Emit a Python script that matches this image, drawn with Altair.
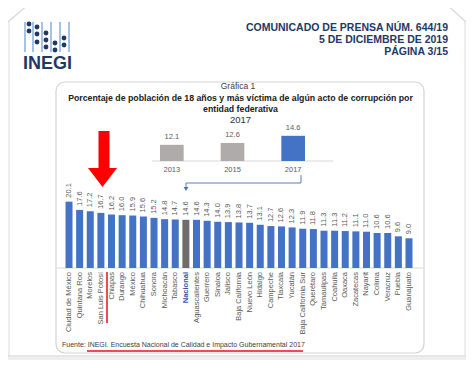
import altair as alt
import pandas as pd

# ---------------- data ----------------
states = ["Ciudad de México", "Quintana Roo", "Morelos", "San Luis Potosí", "Chiapas",
          "Durango", "México", "Chihuahua", "Sonora", "Michoacán", "Tabasco", "Nacional",
          "Aguascalientes", "Guerrero", "Sinaloa", "Jalisco", "Baja California",
          "Nuevo León", "Hidalgo", "Campeche", "Tlaxcala", "Yucatán",
          "Baja California Sur", "Querétaro", "Tamaulipas", "Coahuila", "Oaxaca",
          "Zacatecas", "Nayarit", "Colima", "Veracruz", "Puebla", "Guanajuato"]
values = [20.1, 17.6, 17.2, 16.7, 16.2, 16.0, 15.9, 15.6, 15.2, 14.8, 14.7, 14.6,
          14.6, 14.3, 14.0, 13.9, 13.8, 13.7, 13.1, 12.7, 12.6, 12.3, 11.9, 11.8,
          11.3, 11.3, 11.2, 11.1, 11.0, 10.6, 10.6, 9.6, 9.0]
years = ["2013", "2015", "2017"]
year_values = [12.1, 12.6, 14.6]

BLUE = "#4472c4"
NAT = "#706c6c"
GREY = "#afabab"
FONT = "Liberation Sans"
NAVY = "#1f3864"
INSET_BASE = 7.6


def px(v):
    return v - 8


main = pd.DataFrame({"estado": states, "valor": values})
main["color"] = [NAT if s == "Nacional" else BLUE for s in states]
inset = pd.DataFrame({"anio": years, "valor": year_values})
inset["color"] = [GREY, GREY, BLUE]
one = pd.DataFrame({"k": [0]})

xmain = alt.Scale(domain=states, range=[px(63.7), px(414.3)], paddingInner=0.34, paddingOuter=0.17)
ymain = alt.Scale(domain=[0, 22], range=[px(268), px(268 - 72.6)], nice=False, zero=True)
xins = alt.Scale(domain=years, range=[px(141.5), px(323.5)], paddingInner=0.61, paddingOuter=0.305)
yins = alt.Scale(domain=[INSET_BASE, 16], range=[px(161), px(161 - 8.4 * 3.6)], nice=False, zero=False)

# ---------------- decoration ----------------
seg = pd.DataFrame([
    # page frame
    dict(x=30, x2=445, y=3, y2=3, c="#d6d6d6", w=1.2),
    dict(x=8, x2=30, y=22, y2=3, c="#d6d6d6", w=1.2),
    dict(x=445, x2=466, y=3, y2=22, c="#d6d6d6", w=1.2),
    dict(x=9, x2=9, y=22, y2=356, c="#e2e2e2", w=1.2),
    dict(x=465, x2=465, y=22, y2=356, c="#e2e2e2", w=1.2),
    dict(x=8, x2=466, y=356, y2=356, c="#cfcfcf", w=1.2),
    # axis lines
    dict(x=57, x2=423, y=268, y2=268, c="#d9d9d9", w=1),
    dict(x=152, x2=333, y=161, y2=161, c="#d9d9d9", w=1),
    # connector
    dict(x=301, x2=301, y=175, y2=183, c="#5b7dbf", w=1),
    dict(x=186, x2=301, y=183, y2=183, c="#5b7dbf", w=1),
    dict(x=186, x2=186, y=183, y2=188, c="#5b7dbf", w=1),
    # red marks
    dict(x=104, x2=104, y=131, y2=170, c="#ff0000", w=11),
    dict(x=107, x2=107, y=272, y2=323, c="#e8101a", w=1.5),
    dict(x=87, x2=303, y=351, y2=351, c="#e8101a", w=1.5),
    # logo lines
    dict(x=25, x2=25, y=22, y2=52, c="#4a86c8", w=1),
    dict(x=33, x2=33, y=22, y2=52, c="#4a86c8", w=1),
    dict(x=42, x2=42, y=22, y2=52, c="#4a86c8", w=1),
    dict(x=51, x2=51, y=22, y2=52, c="#4a86c8", w=1),
    dict(x=60, x2=60, y=22, y2=52, c="#4a86c8", w=1),
    dict(x=69, x2=69, y=22, y2=52, c="#4a86c8", w=1),
])
for col in ["x", "x2", "y", "y2"]:
    seg[col] = seg[col] - 8

logo_dots = pd.DataFrame({
    "x": [29, 29, 37, 37, 37, 46, 46, 46, 55, 55, 64, 64],
    "y": [24, 31, 27, 34, 42, 33, 40, 47, 43, 50, 38, 45],
})
logo_dots["x"] = logo_dots["x"] - 8
logo_dots["y"] = logo_dots["y"] - 8

bg = alt.Chart(one).mark_rect(fill="#eeeeee").encode(
    x=alt.value(0), x2=alt.value(458), y=alt.value(px(357)), y2=alt.value(352))

box = alt.Chart(one).mark_rect(fill="white", stroke="#d3d3d3", strokeWidth=1.2, cornerRadius=9).encode(
    x=alt.value(px(56)), x2=alt.value(px(424)), y=alt.value(px(82)), y2=alt.value(px(353)))

lines = alt.Chart(seg).mark_rule().encode(
    x=alt.X("x:Q", scale=None), x2="x2:Q",
    y=alt.Y("y:Q", scale=None), y2="y2:Q",
    color=alt.Color("c:N", scale=None),
    strokeWidth=alt.StrokeWidth("w:Q", scale=None),
)

dots = alt.Chart(logo_dots).mark_circle(size=24, color=NAVY, opacity=1).encode(
    x=alt.X("x:Q", scale=None), y=alt.Y("y:Q", scale=None))

# ---------------- main chart ----------------
bars = alt.Chart(main).mark_bar().encode(
    x=alt.X("estado:N", scale=xmain, axis=None, sort=None),
    y=alt.Y("valor:Q", scale=ymain, axis=None),
    color=alt.Color("color:N", scale=None),
)
vlabels = alt.Chart(main).mark_text(angle=270, align="left", baseline="middle", dx=4,
                                    fontSize=7.5, font=FONT, color="#595959").encode(
    x=alt.X("estado:N", scale=xmain, axis=None, sort=None),
    y=alt.Y("valor:Q", scale=ymain, axis=None),
    text=alt.Text("valor:Q", format=".1f"),
)
xl = alt.Chart(main).transform_filter("datum.estado != 'Nacional'").mark_text(
    angle=270, align="right", baseline="middle", fontSize=7.5, font=FONT, color="#595959").encode(
    x=alt.X("estado:N", scale=xmain, axis=None, sort=None),
    y=alt.value(px(272)),
    text="estado:N",
)
xln = alt.Chart(main).transform_filter("datum.estado == 'Nacional'").mark_text(
    angle=270, align="right", baseline="middle", fontSize=7.5, font=FONT, fontWeight="bold",
    color="#2f55a4").encode(
    x=alt.X("estado:N", scale=xmain, axis=None, sort=None),
    y=alt.value(px(272)),
    text="estado:N",
)

# ---------------- inset ----------------
ibars = alt.Chart(inset).transform_calculate(base=f"{INSET_BASE}").mark_bar().encode(
    x=alt.X("anio:N", scale=xins, axis=None),
    y=alt.Y("valor:Q", scale=yins, axis=None),
    y2="base:Q",
    color=alt.Color("color:N", scale=None),
)
ilabels = alt.Chart(inset).mark_text(baseline="bottom", dy=-4, fontSize=7.5, font=FONT,
                                     color="#595959").encode(
    x=alt.X("anio:N", scale=xins, axis=None),
    y=alt.Y("valor:Q", scale=yins, axis=None),
    text=alt.Text("valor:Q", format=".1f"),
)
iyears = alt.Chart(inset).mark_text(baseline="middle", fontSize=7.5, font=FONT,
                                    color="#595959").encode(
    x=alt.X("anio:N", scale=xins, axis=None),
    y=alt.value(px(170)),
    text="anio:N",
)

# ---------------- arrows ----------------
conn_head = alt.Chart(one).mark_point(shape="triangle-down", filled=True, size=22,
                                      color="#4a6fb5", opacity=1).encode(
    x=alt.value(px(186)), y=alt.value(px(189)))
red_head = alt.Chart(one).mark_point(shape="M-1,-0.65L1,-0.65L0,0.65Z", filled=True, size=841,
                                     color="#ff0000", opacity=1, strokeWidth=0).encode(
    x=alt.value(px(102.5)), y=alt.value(px(177.5)))


# ---------------- texts ----------------
def txt(t, x, y, size, weight="normal", align="center", color="#404040"):
    return alt.Chart(one).mark_text(text=t, fontSize=size, fontWeight=weight, align=align,
                                    baseline="middle", font=FONT, color=color).encode(
        x=alt.value(px(x)), y=alt.value(px(y)))


texts = [
    txt("COMUNICADO DE PRENSA NÚM. 644/19", 448, 28, 10.5, "bold", "right", NAVY),
    txt("5 DE DICIEMBRE DE 2019", 448, 40, 10.5, "bold", "right", NAVY),
    txt("PÁGINA 3/15", 448, 52, 10.5, "bold", "right", NAVY),
    txt("INEGI", 23, 64, 18, "bold", "left", NAVY),
    txt("Gráfica 1", 238, 86, 8.5),
    txt("Porcentaje de población de 18 años y más víctima de algún acto de corrupción por",
        240.5, 97.5, 8.75, "bold", "center", "#202020"),
    txt("entidad federativa", 240.5, 109, 8.75, "bold", "center", "#202020"),
    txt("2017", 240.5, 119.5, 9.5, "normal", "center", "#303030"),
    txt("Fuente:  INEGI. Encuesta Nacional de Calidad e Impacto Gubernamental 2017",
        62, 345, 7, "normal", "left", "#404040"),
]

chart = alt.layer(
    bg, box, lines, dots, bars, vlabels, xl, xln, ibars, ilabels, iyears,
    conn_head, red_head, *texts
).resolve_scale(x="independent", y="independent").properties(
    width=458, height=352, padding=0, autosize=alt.AutoSizeParams(type="none"),
    background="white"
).configure_view(stroke=None)

chart.save("out.html", embed_options={"renderer": "svg", "actions": False})
